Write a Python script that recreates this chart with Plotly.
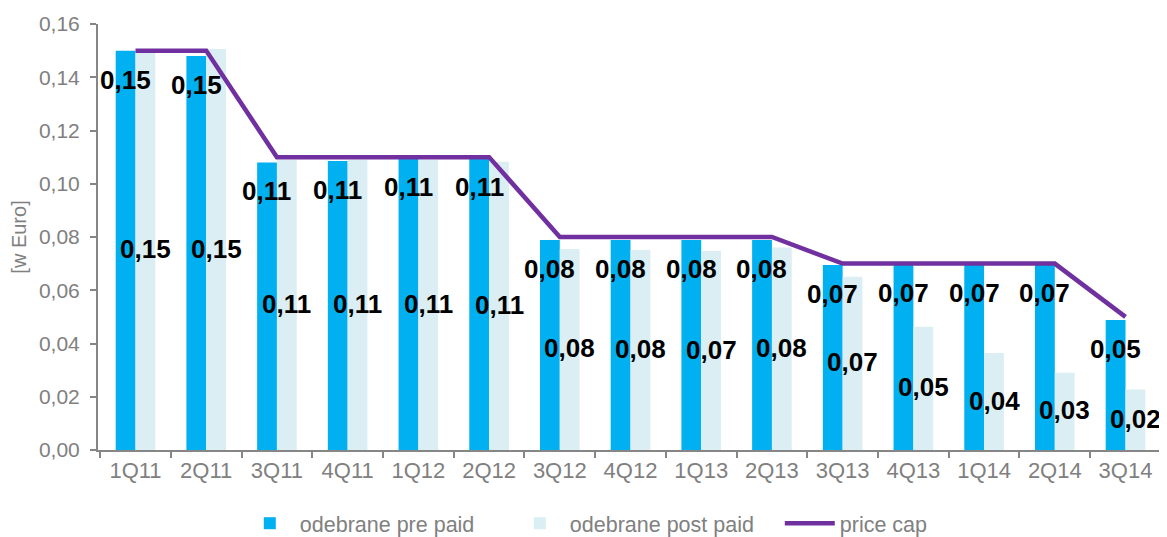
import plotly.graph_objects as go

categories = ["1Q11", "2Q11", "3Q11", "4Q11", "1Q12", "2Q12", "3Q12", "4Q12",
              "1Q13", "2Q13", "3Q13", "4Q13", "1Q14", "2Q14", "3Q14"]
pre_paid = [0.150, 0.148, 0.108, 0.1085, 0.1097, 0.1097, 0.0789, 0.0789,
            0.0789, 0.0789, 0.0695, 0.0700, 0.0700, 0.0700, 0.0488]
post_paid = [0.150, 0.1506, 0.109, 0.109, 0.109, 0.1083, 0.0755, 0.0751,
             0.0747, 0.0761, 0.0651, 0.0463, 0.0364, 0.0290, 0.0227]
price_cap = [0.15, 0.15, 0.11, 0.11, 0.11, 0.11, 0.08, 0.08,
             0.08, 0.08, 0.07, 0.07, 0.07, 0.07, 0.05]
y_ticks = [0.00, 0.02, 0.04, 0.06, 0.08, 0.10, 0.12, 0.14, 0.16]

GRAY = "#808080"
AXIS = "#868686"
FONT = "Liberation Sans, Arial, sans-serif"


def fmt(v):
    return f"{v:.2f}".replace(".", ",")


fig = go.Figure()
fig.add_trace(go.Bar(x=categories, y=pre_paid, name="odebrane pre paid",
                     marker=dict(color="#00B0F0", line=dict(width=0))))
fig.add_trace(go.Bar(x=categories, y=post_paid, name="odebrane post paid",
                     marker=dict(color="#DAEEF3", line=dict(width=0))))
fig.add_trace(go.Scatter(x=categories, y=price_cap, name="price cap", mode="lines",
                         line=dict(color="#7030A0", width=4.5)))

annotations = []
for c, v in zip(categories, pre_paid):
    annotations.append(dict(x=c, y=v, xref="x", yref="y", text=fmt(v), showarrow=False,
                            xshift=-10, yshift=-29, yanchor="middle",
                            font=dict(family=FONT, size=26, color="black", weight="bold")))
for c, v in zip(categories, post_paid):
    annotations.append(dict(x=c, y=v / 2, xref="x", yref="y", text=fmt(v), showarrow=False,
                            xshift=10, yshift=1, yanchor="middle",
                            font=dict(family=FONT, size=26, color="black", weight="bold")))

# the page body adds an 8px offset, so the figure is sized to fit the window
fig.update_layout(
    width=1159, height=529,
    margin=dict(l=90, r=4, t=16, b=87, autoexpand=False),
    paper_bgcolor="white", plot_bgcolor="white",
    barmode="group", bargap=0.44, bargroupgap=0,
    separators=", ",
    font=dict(family=FONT, size=20, color=GRAY),
    showlegend=True,
    legend=dict(orientation="h", xref="container", yref="container",
                x=0.2, xanchor="left", y=0.026, yanchor="middle",
                font=dict(family=FONT, size=21.5, color=GRAY),
                itemwidth=50, entrywidth=205, traceorder="normal"),
    annotations=annotations,
)
fig.update_xaxes(type="category", showline=True, linecolor=AXIS, linewidth=2,
                 ticks="outside", tickson="boundaries", ticklen=6, tickwidth=2,
                 tickcolor=AXIS, showgrid=False, zeroline=False,
                 tickfont=dict(family=FONT, size=22, color=GRAY))
fig.update_yaxes(range=[0, 0.16], tickvals=y_ticks, tickformat=".2f",
                 showline=True, linecolor=AXIS, linewidth=2,
                 ticks="outside", ticklen=6, tickwidth=2, tickcolor=AXIS,
                 showgrid=False, zeroline=False, ticklabelstandoff=6,
                 tickfont=dict(family=FONT, size=21, color=GRAY),
                 title=dict(text="[w Euro]", standoff=8,
                            font=dict(family=FONT, size=20, color=GRAY)))

fig.write_html("out.html")
